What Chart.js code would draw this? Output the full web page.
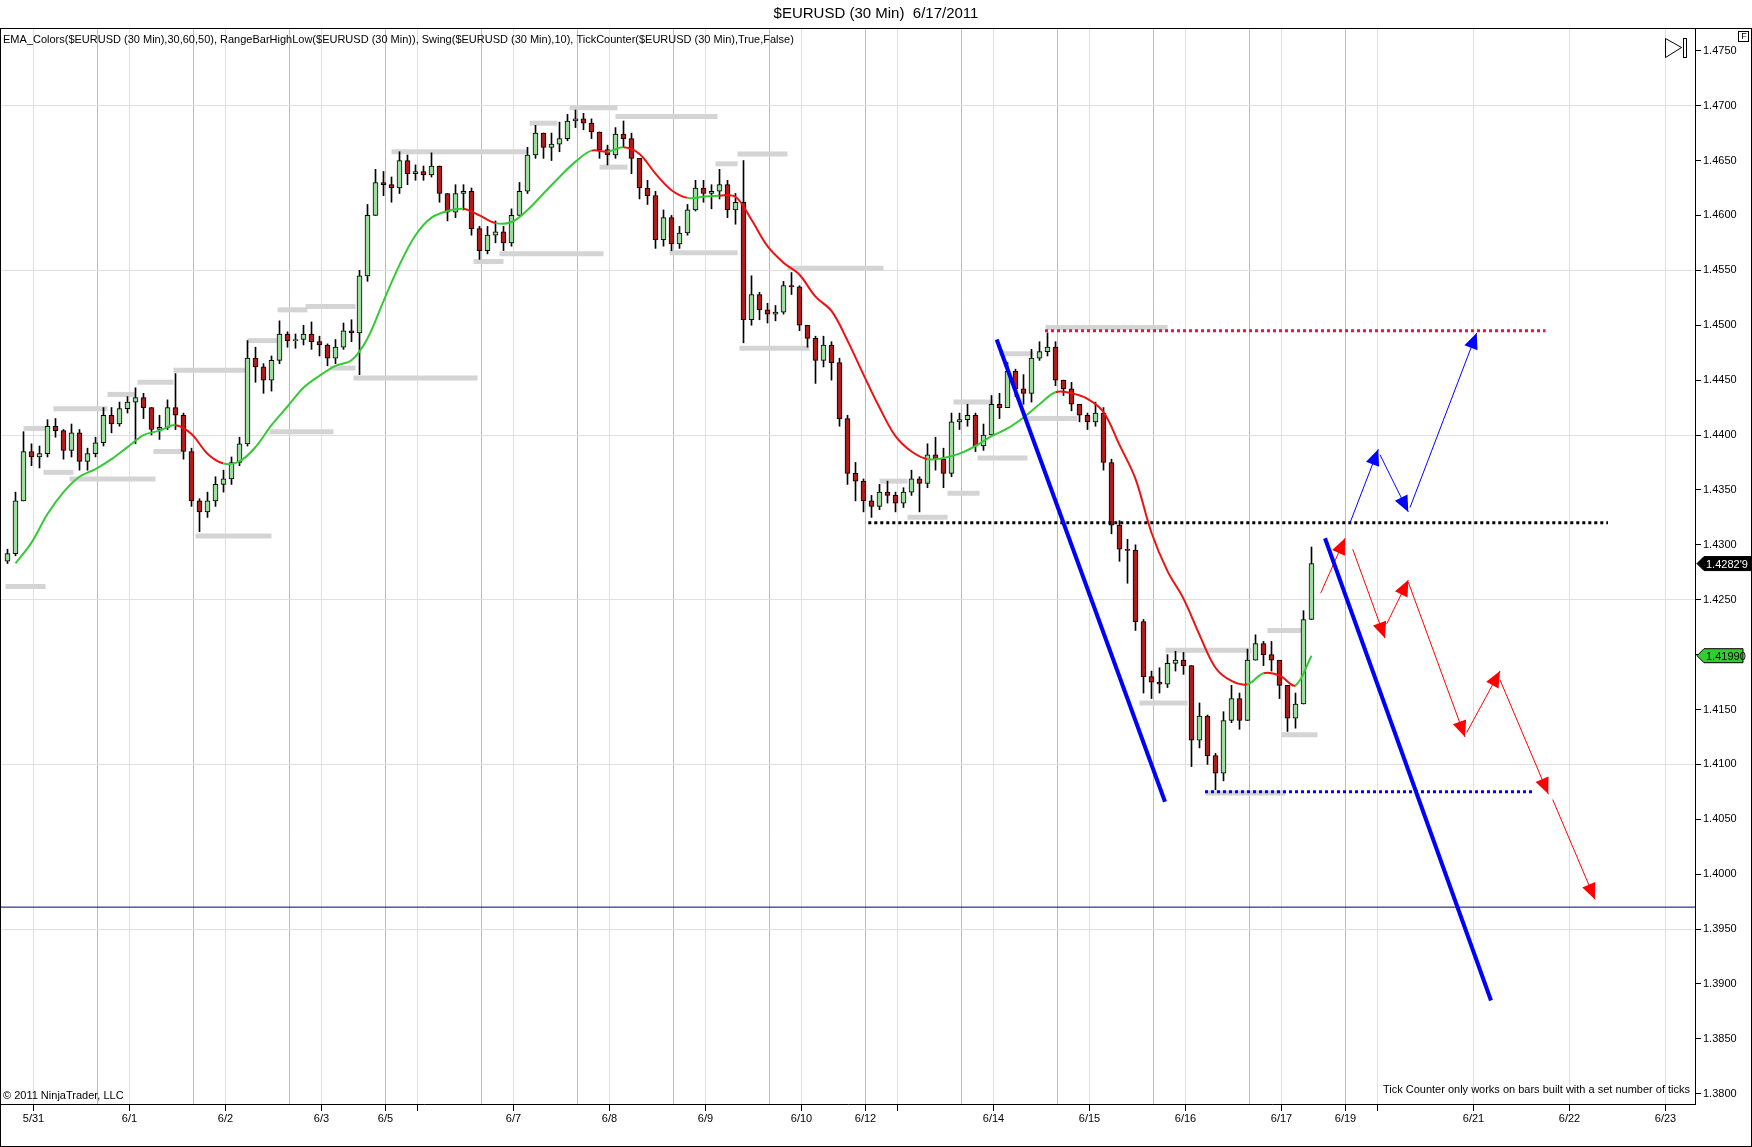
<!DOCTYPE html>
<html>
<head>
<meta charset="utf-8">
<title>$EURUSD (30 Min) 6/17/2011</title>
<script src="https://cdn.jsdelivr.net/npm/chart.js@4.4.1/dist/chart.umd.min.js"></script>
<style>
  html, body { margin: 0; padding: 0; background: #fff; }
  #wrap { position: relative; width: 1752px; height: 1147px; }
  canvas { display: block; }
</style>
</head>
<body>
<div id="wrap"><canvas id="priceChart" width="1752" height="1147"></canvas></div>
<script>
// Values. x is counted in 30 min bars from the 5/31 line.

// candles, one per 2 hours, open = previous close
const firstOpen = 1.4285;
const closes = [
  1.4292, 1.4340, 1.4385, 1.4380, 1.4383, 1.4408, 1.4404, 1.4386, 1.4402, 1.4376,
  1.4383, 1.4393, 1.4418, 1.4410, 1.4424, 1.4430, 1.4434, 1.4425, 1.4405, 1.4407,
  1.4425, 1.4418, 1.4385, 1.4340, 1.4330, 1.4340, 1.4355, 1.4360, 1.4375, 1.4392,
  1.4470, 1.4462, 1.4450, 1.4468, 1.4492, 1.4486, 1.4487, 1.4492, 1.4485, 1.4482,
  1.4470, 1.4480, 1.4495, 1.4493, 1.4545, 1.4600, 1.4630, 1.4628, 1.4625, 1.4650,
  1.4638, 1.4640, 1.4637, 1.4645, 1.4620, 1.4603, 1.4620, 1.4622, 1.4588, 1.4568,
  1.4582, 1.4585, 1.4575, 1.4600, 1.4622, 1.4655, 1.4675, 1.4662, 1.4665, 1.4670,
  1.4686, 1.4688, 1.4684, 1.4676, 1.4660, 1.4655, 1.4674, 1.4670, 1.4652, 1.4625,
  1.4618, 1.4578, 1.4598, 1.4574, 1.4584, 1.4605, 1.4625, 1.4620, 1.4622, 1.4628,
  1.4605, 1.4612, 1.4505, 1.4528, 1.4514, 1.4510, 1.4512, 1.4536, 1.4535, 1.4500,
  1.4488, 1.4468, 1.4482, 1.4466, 1.4415, 1.4365, 1.4358, 1.4340, 1.4335, 1.4348,
  1.4345, 1.4338, 1.4348, 1.4360, 1.4356, 1.4382, 1.4378, 1.4365, 1.4412, 1.4414,
  1.4418, 1.4390, 1.4400, 1.4428, 1.4425, 1.4458, 1.4442, 1.4438, 1.4470, 1.4476,
  1.4480, 1.4450, 1.4442, 1.4428, 1.4418, 1.4412, 1.4420, 1.4375, 1.4318, 1.4296,
  1.4295, 1.4230, 1.4180, 1.4175, 1.4173, 1.4192, 1.4195, 1.4190, 1.4122, 1.4144,
  1.4108, 1.4092, 1.4140, 1.4160, 1.4140, 1.4195, 1.4210, 1.4200, 1.4195, 1.4172,
  1.4142, 1.4155, 1.4232, 1.42829
];
const highs = [
  1.4296, 1.4348, 1.4403, 1.4392, 1.4390, 1.4414, 1.4415, 1.4405, 1.4410, 1.4405,
  1.4388, 1.4398, 1.4425, 1.4425, 1.4430, 1.4435, 1.4443, 1.4438, 1.4425, 1.4418,
  1.4432, 1.4456, 1.4420, 1.4388, 1.4342, 1.4348, 1.4362, 1.4368, 1.4380, 1.4398,
  1.4486, 1.4480, 1.4465, 1.4472, 1.4504, 1.4494, 1.4492, 1.4500, 1.4503, 1.4490,
  1.4483, 1.4487, 1.4502, 1.4505, 1.4550, 1.4610, 1.4642, 1.4640, 1.4635, 1.4658,
  1.4655, 1.4646, 1.4645, 1.4657, 1.4645, 1.4620, 1.4628, 1.4628, 1.4625, 1.4590,
  1.4590, 1.4595, 1.4590, 1.4606, 1.4630, 1.4662, 1.4682, 1.4675, 1.4675, 1.4685,
  1.4692, 1.4696, 1.4693, 1.4688, 1.4676, 1.4664, 1.4680, 1.4686, 1.4675, 1.4648,
  1.4632, 1.4622, 1.4605, 1.4600, 1.4590, 1.4610, 1.4632, 1.4632, 1.4628, 1.4642,
  1.4632, 1.4620, 1.4650, 1.4545, 1.4530, 1.4520, 1.4518, 1.4540, 1.4548, 1.4536,
  1.4500, 1.4490, 1.4490, 1.4485, 1.4470, 1.4418, 1.4375, 1.4360, 1.4345, 1.4355,
  1.4358, 1.4348, 1.4352, 1.4368, 1.4362, 1.4392, 1.4398, 1.4388, 1.4420, 1.4420,
  1.4428, 1.4420, 1.4410, 1.4436, 1.4438, 1.4466, 1.4460, 1.4455, 1.4478, 1.4485,
  1.4493, 1.4485, 1.4450, 1.4448, 1.4428, 1.4420, 1.4430, 1.4425, 1.4378, 1.4322,
  1.4305, 1.4300, 1.4232, 1.4185, 1.4188, 1.4200, 1.4203, 1.4202, 1.4190, 1.4156,
  1.4145, 1.4110, 1.4148, 1.4172, 1.4165, 1.4205, 1.4218, 1.4212, 1.4212, 1.4190,
  1.4172, 1.4165, 1.4240, 1.4298
];
const lows = [
  1.4283, 1.4290, 1.4340, 1.4372, 1.4370, 1.4380, 1.4398, 1.4378, 1.4380, 1.4368,
  1.4368, 1.4380, 1.4390, 1.4402, 1.4408, 1.4420, 1.4392, 1.4415, 1.4400, 1.4396,
  1.4405, 1.4405, 1.4378, 1.4335, 1.4312, 1.4325, 1.4335, 1.4348, 1.4355, 1.4372,
  1.4390, 1.4448, 1.4438, 1.4440, 1.4465, 1.4480, 1.4479, 1.4482, 1.4478, 1.4472,
  1.4463, 1.4465, 1.4478, 1.4485, 1.4455, 1.4540, 1.4600, 1.4618, 1.4612, 1.4620,
  1.4628, 1.4632, 1.4632, 1.4635, 1.4612, 1.4595, 1.4598, 1.4605, 1.4582, 1.4560,
  1.4565, 1.4575, 1.4568, 1.4572, 1.4600, 1.4620, 1.4652, 1.4652, 1.4650, 1.4658,
  1.4668, 1.4680, 1.4678, 1.4670, 1.4652, 1.4646, 1.4652, 1.4662, 1.4638, 1.4615,
  1.4610, 1.4570, 1.4572, 1.4568, 1.4570, 1.4582, 1.4604, 1.4612, 1.4606, 1.4615,
  1.4598, 1.4592, 1.4484, 1.4500, 1.4505, 1.4502, 1.4504, 1.4510, 1.4528, 1.4495,
  1.4480, 1.4447, 1.4462, 1.4450, 1.4408, 1.4355, 1.4340, 1.4330, 1.4325, 1.4332,
  1.4338, 1.4330, 1.4334, 1.4345, 1.4330, 1.4352, 1.4368, 1.4352, 1.4362, 1.4405,
  1.4408, 1.4385, 1.4386, 1.4400, 1.4415, 1.4425, 1.4435, 1.4428, 1.4430, 1.4468,
  1.4472, 1.4445, 1.4436, 1.4422, 1.4412, 1.4405, 1.4408, 1.4368, 1.4310, 1.4285,
  1.4265, 1.4222, 1.4165, 1.4160, 1.4165, 1.4170, 1.4185, 1.4182, 1.4098, 1.4115,
  1.4100, 1.4077, 1.4085, 1.4138, 1.4132, 1.4140, 1.4195, 1.4190, 1.4185, 1.4160,
  1.4130, 1.4133, 1.4155, 1.4232
];
const barStart = -13, barStep = 4;

// EMA_Colors line, one point every 4 hours
const emaValues = [
  1.4283, 1.4302, 1.4328, 1.4348, 1.4362, 1.4369, 1.4378, 1.4389, 1.4400, 1.4404,
  1.4409, 1.4401, 1.4383, 1.4374, 1.4376, 1.4389, 1.4409, 1.4426, 1.4443, 1.4454,
  1.4463, 1.4468, 1.4488, 1.4522, 1.4555, 1.4582, 1.4598, 1.4604, 1.4606, 1.4600,
  1.4593, 1.4594, 1.4605, 1.4620, 1.4635, 1.4649, 1.4659, 1.4658, 1.4662, 1.4656,
  1.4638, 1.4623, 1.4616, 1.4617, 1.4618, 1.4617, 1.4596, 1.4572, 1.4557, 1.4546,
  1.4526, 1.4513, 1.4486, 1.4455, 1.4425, 1.4399, 1.4385, 1.4378, 1.4379, 1.4383,
  1.4390, 1.4399, 1.4406, 1.4416, 1.4428, 1.4439, 1.4438, 1.4433, 1.4421, 1.4391,
  1.4360, 1.4311, 1.4276, 1.4251, 1.4218, 1.4188, 1.4176, 1.4173, 1.4183, 1.4181,
  1.4172, 1.4199
];
const emaStart = -9, emaStep = 8;

// Swing / RangeBarHighLow grey markers
const swingFrom = [-14, -5, 5, 10, 18, 37, 52, 60, 70, 81, 118, 148, 107, 122, 136, 160, 179, 220, 233, 248,
  268, 291, 283, 318, 341, 352, 377, 353, 423, 437, 457, 460, 472, 483, 497, 506, 566, 553, 617, 624, 586];
const swingTo = [6, 7, 20, 37, 61, 51, 70, 74, 107, 119, 150, 161, 122, 137, 161, 222, 247, 235, 285, 262,
  292, 342, 297, 352, 352, 377, 425, 388, 437, 457, 473, 480, 497, 500, 522, 567, 609, 577, 634, 642, 626];
const swingPrice = [1.4262, 1.4406, 1.4366, 1.4424, 1.4360, 1.4437, 1.4448, 1.4385, 1.4459, 1.4308,
  1.4403, 1.4461, 1.4486, 1.4514, 1.4517, 1.4452, 1.4658, 1.4558, 1.4565, 1.4684,
  1.4698, 1.4690, 1.4644, 1.4566, 1.4647, 1.4656, 1.4552, 1.4479, 1.4358, 1.4325,
  1.4347, 1.4430, 1.4379, 1.4474, 1.4415, 1.4498, 1.4204, 1.4156, 1.4222, 1.4127, 1.4074];

// axis
const tickPositions = [0, 48, 96, 144, 176, 240, 288, 336, 384, 416, 480, 528, 576, 624, 656, 720, 768, 816];
const tickLabels = ['5/31', '6/1', '6/2', '6/3', '6/5', '6/7', '6/8', '6/9', '6/10', '6/12', '6/14', '6/15',
  '6/16', '6/17', '6/19', '6/21', '6/22', '6/23'];
const unlabeledTicks = [192, 432, 672];
const futureGridLines = [656, 672, 720, 768, 816];
const yTicks = [1.3800, 1.3850, 1.3900, 1.3950, 1.4000, 1.4050, 1.4100, 1.4150, 1.4200, 1.4250,
  1.4300, 1.4350, 1.4400, 1.4450, 1.4500, 1.4550, 1.4600, 1.4650, 1.4700, 1.4750];
const yGridLevels = [1.4700, 1.4550, 1.4400, 1.4250, 1.4100, 1.3950];

// hand drawn objects
const trendLines = [
  [[481.6, 1.4487], [565.75, 1.4066]],
  [[645.75, 1.4306], [728.75, 1.3885]]
];
const levelFrom = [505.75, 417.4, 585.75];
const levelTo = [756.0, 787.25, 750.75];
const levelPrice = [1.4495, 1.4320, 1.4075];
const baseLevel = 1.3970;
const blueArrows = [
  [[658.25, 1.4320], [672.4, 1.4387]],
  [[673.25, 1.4382], [687.4, 1.4330]],
  [[688.25, 1.4334], [721.6, 1.4493]]
];
const redArrows = [
  [[643.6, 1.4256], [655.75, 1.4306]],
  [[659.6, 1.4296], [675.75, 1.4215]],
  [[676.6, 1.4228], [687.4, 1.4268]],
  [[687.4, 1.4266], [715.75, 1.4125]],
  [[716.6, 1.4129], [733.25, 1.4185]],
  [[733.25, 1.4177], [757.4, 1.4073]],
  [[759.6, 1.4068], [780.75, 1.3977]]
];

// ------------------------------------------------------------------
const FONT = '"Liberation Sans", Arial, sans-serif';
const X_MIN = -16.25, X_MAX = 830.75;
const Y_MIN = 1.37907, Y_MAX = 1.47698;

const opens = closes.map(function (c, i) { return i === 0 ? firstOpen : closes[i - 1]; });
const candleX = closes.map(function (c, i) { return barStart + barStep * i; });

var datasets = [];

// grey swing markers (bottom)
swingPrice.forEach(function (p, i) {
  datasets.push({
    type: 'line',
    data: [{ x: swingFrom[i], y: p }, { x: swingTo[i], y: p }],
    borderColor: '#d4d4d4',
    borderWidth: 5,
    borderCapStyle: 'butt',
    pointRadius: 0,
    order: 20
  });
});

// wicks
datasets.push({
  type: 'bar',
  data: candleX.map(function (x, i) { return { x: x, y: [lows[i], highs[i]] }; }),
  backgroundColor: '#000',
  barThickness: 1,
  grouped: false,
  order: 6
});

// bodies
datasets.push({
  type: 'bar',
  data: candleX.map(function (x, i) { return { x: x, y: [opens[i], closes[i]] }; }),
  backgroundColor: closes.map(function (c, i) { return c >= opens[i] ? '#9fdc9f' : '#b01c1c'; }),
  borderColor: '#000',
  borderWidth: 1,
  borderSkipped: false,
  barThickness: 5,
  grouped: false,
  order: 5
});

// EMA, green while rising, red while falling
datasets.push({
  type: 'line',
  data: emaValues.map(function (v, k) { return { x: emaStart + emaStep * k, y: v }; }),
  borderWidth: 2,
  pointRadius: 0,
  tension: 0.35,
  segment: {
    borderColor: function (ctx) { return ctx.p1.parsed.y > ctx.p0.parsed.y ? '#36c936' : '#ee1111'; }
  },
  order: 3
});

// navy horizontal line
datasets.push({
  type: 'line',
  data: [{ x: X_MIN, y: baseLevel }, { x: X_MAX, y: baseLevel }],
  borderColor: '#000080',
  borderWidth: 1,
  pointRadius: 0,
  order: 2
});

// dotted levels
var levelColors = ['#e3163f', '#000000', '#0000ff'];
levelPrice.forEach(function (p, i) {
  datasets.push({
    type: 'line',
    data: [{ x: levelFrom[i], y: p }, { x: levelTo[i], y: p }],
    borderColor: levelColors[i],
    borderWidth: 3,
    borderDash: [3, 3],
    borderCapStyle: 'butt',
    pointRadius: 0,
    order: 1
  });
});

// blue trend lines
trendLines.forEach(function (seg) {
  datasets.push({
    type: 'line',
    data: seg.map(function (p) { return { x: p[0], y: p[1] }; }),
    borderColor: '#0000ff',
    borderWidth: 4,
    pointRadius: 0,
    order: 0
  });
});

// arrows
function addArrows(list, color) {
  list.forEach(function (seg) {
    datasets.push({
      type: 'line',
      data: seg.map(function (p) { return { x: p[0], y: p[1] }; }),
      borderColor: color,
      borderWidth: 1,
      pointRadius: 0,
      arrowHead: color,
      order: 0
    });
  });
}
addArrows(blueArrows, '#0000ff');
addArrows(redArrows, '#ff0000');

// arrow heads at the end of each arrow line
var arrowHeads = {
  id: 'arrowHeads',
  afterDatasetsDraw: function (chart) {
    var ctx = chart.ctx;
    chart.data.datasets.forEach(function (ds, i) {
      if (!ds.arrowHead) return;
      var pts = chart.getDatasetMeta(i).data;
      var a = pts[pts.length - 2], b = pts[pts.length - 1];
      var ang = Math.atan2(b.y - a.y, b.x - a.x);
      var len = 16, half = 7;
      ctx.save();
      ctx.translate(b.x, b.y);
      ctx.rotate(ang);
      ctx.fillStyle = ds.arrowHead;
      ctx.beginPath();
      ctx.moveTo(0, 0);
      ctx.lineTo(-len, -half);
      ctx.lineTo(-len, half);
      ctx.closePath();
      ctx.fill();
      ctx.restore();
    });
  }
};

// titles, frame, tags
function priceTag(ctx, y, text, fill, textColor, right) {
  ctx.beginPath();
  ctx.moveTo(1697, y);
  ctx.lineTo(1704, y - 7);
  ctx.lineTo(right, y - 7);
  ctx.lineTo(right, y + 7);
  ctx.lineTo(1704, y + 7);
  ctx.closePath();
  ctx.fillStyle = fill;
  ctx.fill();
  ctx.strokeStyle = '#000';
  ctx.lineWidth = 1;
  ctx.stroke();
  ctx.fillStyle = textColor;
  ctx.font = '11px ' + FONT;
  ctx.textAlign = 'left';
  ctx.textBaseline = 'middle';
  ctx.fillText(text, 1706, y + 1);
}

var chartDecor = {
  id: 'chartDecor',
  afterDraw: function (chart) {
    var ctx = chart.ctx;
    var yScale = chart.scales.y;
    ctx.save();

    ctx.fillStyle = '#000';
    ctx.font = '15px ' + FONT;
    ctx.textAlign = 'center';
    ctx.textBaseline = 'middle';
    ctx.fillText('$EURUSD (30 Min)  6/17/2011', 876, 14);

    ctx.font = '11px ' + FONT;
    ctx.textAlign = 'left';
    ctx.fillText('EMA_Colors($EURUSD (30 Min),30,60,50), RangeBarHighLow($EURUSD (30 Min)), Swing($EURUSD (30 Min),10), TickCounter($EURUSD (30 Min),True,False)', 3, 40);
    ctx.fillText('\u00a9 2011 NinjaTrader, LLC', 3, 1096);
    ctx.textAlign = 'right';
    ctx.fillText('Tick Counter only works on bars built with a set number of ticks', 1690, 1090);

    // frame
    ctx.strokeStyle = '#000';
    ctx.lineWidth = 1;
    ctx.strokeRect(0.5, 28.5, 1751, 1118);

    // F box
    ctx.strokeRect(1738.5, 31.5, 10, 10);
    ctx.font = '9px ' + FONT;
    ctx.textAlign = 'center';
    ctx.fillText('F', 1744, 37);

    // play-to-end icon
    ctx.beginPath();
    ctx.moveTo(1665.5, 38.5);
    ctx.lineTo(1681.5, 47.5);
    ctx.lineTo(1665.5, 57.5);
    ctx.closePath();
    ctx.stroke();
    ctx.strokeRect(1683.5, 38.5, 3, 19);

    // last price and EMA tags
    var lastClose = closes[closes.length - 1];
    var lastEma = emaValues[emaValues.length - 1];
    var s = lastClose.toFixed(5);
    priceTag(ctx, yScale.getPixelForValue(lastClose), s.slice(0, 6) + "'" + s.slice(6), '#000', '#fff', 1751);
    priceTag(ctx, yScale.getPixelForValue(lastEma), lastEma.toFixed(5), '#33cc33', '#000', 1743);

    ctx.restore();
  }
};

// x grid: day starts and sunday-session starts
var xGrid = [];
for (var k = 0; k <= 624; k += 48) {
  xGrid.push(k);
  if (k + 32 <= 624) xGrid.push(k + 32);
}
futureGridLines.forEach(function (v) { if (xGrid.indexOf(v) < 0) xGrid.push(v); });
xGrid.sort(function (a, b) { return a - b; });

function labelFor(v) {
  var i = tickPositions.indexOf(v);
  return i >= 0 ? tickLabels[i] : '';
}

Chart.defaults.font.family = FONT;
Chart.defaults.font.size = 11;
Chart.defaults.color = '#000';

new Chart(document.getElementById('priceChart'), {
  type: 'line',
  data: { datasets: datasets },
  options: {
    responsive: false,
    animation: false,
    devicePixelRatio: 1,
    layout: { padding: { top: 29, left: 1, right: 0, bottom: 0 } },
    plugins: { legend: { display: false }, tooltip: { enabled: false }, title: { display: false } },
    scales: {
      x: {
        type: 'linear',
        min: X_MIN,
        max: X_MAX,
        offset: false,
        afterBuildTicks: function (scale) {
          scale.ticks = xGrid.map(function (v) { return { value: v }; });
        },
        afterFit: function (scale) { scale.height = 43; },
        ticks: {
          autoSkip: false,
          maxRotation: 0,
          padding: 1,
          color: '#000',
          font: { size: 11 },
          callback: function (v) { return labelFor(v); }
        },
        grid: {
          offset: false,
          drawTicks: true,
          tickLength: 7,
          color: function (ctx) {
            if (!ctx.tick) return 'rgba(0,0,0,0)';
            return ctx.tick.value % 48 === 32 ? '#bcbcbc' : '#e0e0e0';
          },
          tickColor: function (ctx) {
            if (!ctx.tick) return 'rgba(0,0,0,0)';
            var v = ctx.tick.value;
            return (tickPositions.indexOf(v) >= 0 || unlabeledTicks.indexOf(v) >= 0) ? '#000' : 'rgba(0,0,0,0)';
          }
        },
        border: { display: true, color: '#000', width: 1 }
      },
      y: {
        type: 'linear',
        position: 'right',
        min: Y_MIN,
        max: Y_MAX,
        afterBuildTicks: function (scale) {
          scale.ticks = yTicks.map(function (v) { return { value: v }; });
        },
        afterFit: function (scale) { scale.width = 57; },
        ticks: {
          padding: 2,
          color: '#000',
          font: { size: 11 },
          callback: function (v) { return Number(v).toFixed(4); }
        },
        grid: {
          drawTicks: true,
          tickLength: 6,
          tickColor: '#000',
          color: function (ctx) {
            if (!ctx.tick) return 'rgba(0,0,0,0)';
            var v = ctx.tick.value;
            return yGridLevels.some(function (g) { return Math.abs(g - v) < 1e-6; }) ? '#e0e0e0' : 'rgba(0,0,0,0)';
          }
        },
        border: { display: true, color: '#000', width: 1 }
      }
    }
  },
  plugins: [arrowHeads, chartDecor]
});
</script>
</body>
</html>
